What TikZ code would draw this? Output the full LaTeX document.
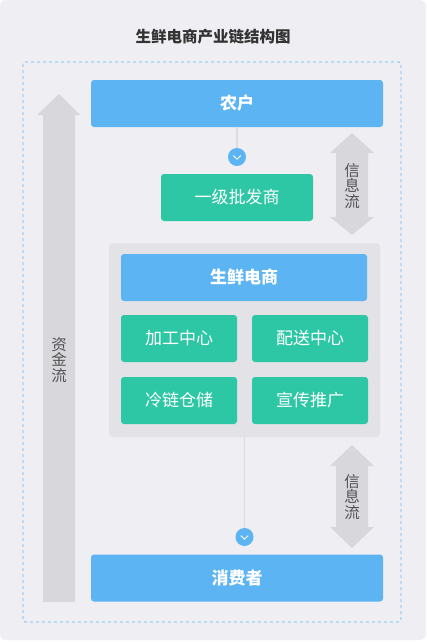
\documentclass[tikz,border=0pt]{standalone}
\usepackage{fontspec}
\setmainfont{Noto Sans CJK SC}
\usepackage{xcolor}
\usetikzlibrary{positioning}
\definecolor{pagebg}{HTML}{EFEFF3}
\definecolor{skyblue}{HTML}{5CB4F3}
\definecolor{mint}{HTML}{2EC7A5}
\definecolor{panelgray}{HTML}{E3E2E7}
\definecolor{flowgray}{HTML}{D8D7DC}
\definecolor{linegray}{HTML}{DCDCE0}
\definecolor{inkgray}{HTML}{333333}

\begin{document}
\begin{tikzpicture}[x=1pt,y=-1pt,
  bluebox/.style={fill=skyblue,rounded corners=3pt,text=white,inner sep=0pt,
    minimum height=47pt,font=\fontsize{17}{17}\selectfont\bfseries},
  greenbox/.style={fill=mint,rounded corners=3pt,text=white,inner sep=0pt,
    minimum height=47pt,font=\fontsize{17}{17}\selectfont},
  flowtext/.style={text=inkgray!85,align=center,inner sep=0pt,
    font=\fontsize{15.5}{15.5}\selectfont},
  dot/.style={circle,fill=skyblue,minimum size=18pt,inner sep=0pt},
  chev/.style={white,line width=1pt,line cap=round,line join=round},
  link/.style={linegray,line width=1.5pt}]
\useasboundingbox (0,0) rectangle (426,642);
\fill[white] (0,0) rectangle (426,642);
\fill[pagebg,rounded corners=6pt] (0,0) rectangle (426,640);

% title and frame
\node[text=inkgray,font=\fontsize{15.5}{15.5}\selectfont\bfseries] (title) at (213,37) {生鲜电商产业链结构图};
\draw[skyblue,dashed,line width=0.8pt,rounded corners=2pt] (23,62) rectangle (401,622);

% money flow
\fill[flowgray] (59,94) -- (80,115) -- (75,115) -- (75,602) -- (43,602) -- (43,115) -- (37,115) -- cycle;
\node[flowtext] (money) at (59,360) {资\\金\\流};

% information flows
\fill[flowgray] (352,133) -- (374,153) -- (368,153) -- (368,217) -- (374,217) -- (352,235)
  -- (330,217) -- (336,217) -- (336,153) -- (330,153) -- cycle;
\node[flowtext] (info1) at (352,186) {信\\息\\流};
\fill[flowgray] (352,445) -- (374,466) -- (368,466) -- (368,527) -- (374,527) -- (352,548)
  -- (330,527) -- (336,527) -- (336,466) -- (330,466) -- cycle;
\node[flowtext] (info2) at (352,497) {信\\息\\流};

% chain
\node[bluebox,minimum width=292pt] (farmer) at (237,103.5) {农户};
\node[dot] (dot1) at (237,157) {};
\draw[link] (farmer) -- (dot1);
\draw[chev] ([shift={(-3.5,-1.2)}]dot1.center) -- ([shift={(0,2.2)}]dot1.center) -- ([shift={(3.5,-1.2)}]dot1.center);
\node[greenbox,minimum width=152pt] (wholesale) at (237,197.5) {一级批发商};

\node[fill=panelgray,rounded corners=4pt,minimum width=271pt,minimum height=194pt,inner sep=0pt] (shop) at (244.5,340) {};
\node[bluebox,minimum width=246pt] (ecom) at (244,277.5) {生鲜电商};
\node[greenbox,minimum width=116pt] (process) at (179,338.5) {加工中心};
\node[greenbox,minimum width=116pt] (deliver) at (310,338.5) {配送中心};
\node[greenbox,minimum width=116pt] (cold) at (179,400.5) {冷链仓储};
\node[greenbox,minimum width=116pt] (promo) at (310,400.5) {宣传推广};

\node[dot] (dot2) at (244.5,537) {};
\draw[link] (shop) -- (dot2);
\draw[chev] ([shift={(-3.5,-1.2)}]dot2.center) -- ([shift={(0,2.2)}]dot2.center) -- ([shift={(3.5,-1.2)}]dot2.center);
\node[bluebox,minimum width=292pt] (consumer) at (237,578) {消费者};
\end{tikzpicture}
\end{document}
